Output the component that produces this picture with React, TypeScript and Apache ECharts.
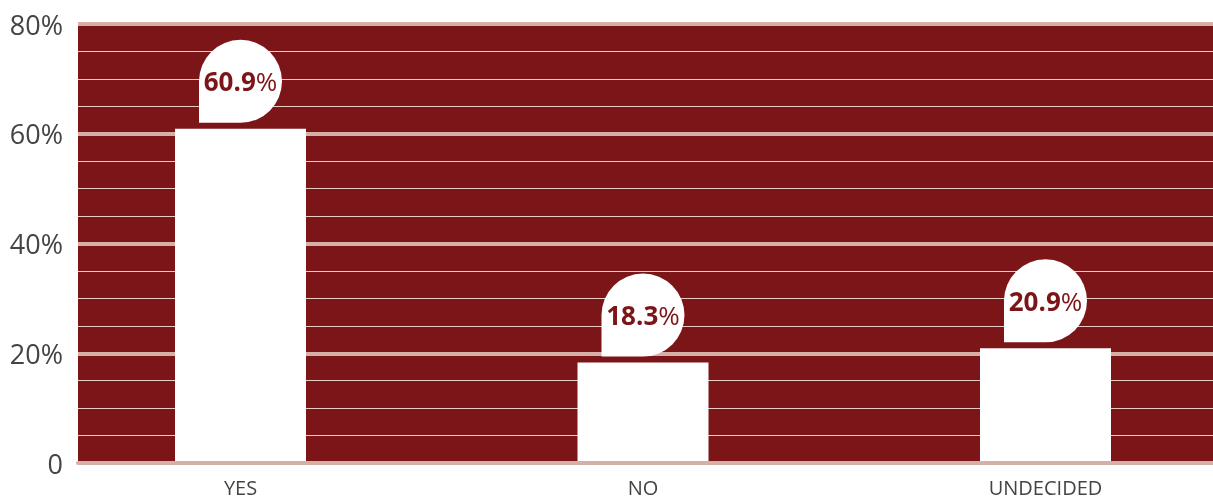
import React, { useEffect, useRef } from "react";
import * as echarts from "echarts";

const categories = ["YES", "NO", "UNDECIDED"];
const values = [60.9, 18.3, 20.9];
const yTicks = [0, 20, 40, 60, 80];

const RED = "#7C1518";
const MAJOR = "#D4B0A6";
const MINOR = "#E8CBC3";
const FONT = "'Open Sans', sans-serif";
const CHART_W = 1260;
const VIEW_W = 1213;

export default function App() {
  const ref = useRef<HTMLDivElement>(null);
  useEffect(() => {
    if (!ref.current) return;
    const chart = echarts.init(ref.current, undefined, { renderer: "svg" });
    chart.setOption({
      animation: false,
      grid: [
        { left: 78, right: CHART_W - VIEW_W, top: 24, bottom: 37, show: true, backgroundColor: RED, borderWidth: 0 },
        { left: 39.25, width: 1207.5, top: 24, bottom: 37 },
      ],
      xAxis: [
        {
          gridIndex: 0,
          type: "category",
          data: [""],
          axisLine: { show: true, lineStyle: { color: MAJOR, width: 4 } },
          axisTick: { show: false },
          axisLabel: { show: false },
          z: 10,
        },
        {
          gridIndex: 1,
          type: "category",
          data: categories,
          axisLine: { show: false },
          axisTick: { show: false },
          axisLabel: { color: "#444", fontFamily: FONT, fontSize: 20, margin: 14 },
        },
      ],
      yAxis: [
        {
          gridIndex: 0,
          type: "value",
          min: yTicks[0],
          max: yTicks[yTicks.length - 1],
          interval: 20,
          axisLine: { show: false },
          axisTick: { show: false },
          axisLabel: {
            color: "#444",
            fontFamily: FONT,
            fontSize: 27,
            margin: 15,
            formatter: (v: number) => (v === 0 ? "0" : v + "%"),
          },
          splitLine: { show: true, lineStyle: { color: MAJOR, width: 4 } },
          minorTick: { show: false, splitNumber: 4 },
          minorSplitLine: { show: true, lineStyle: { color: MINOR, width: 1 } },
        },
        {
          gridIndex: 1,
          type: "value",
          min: yTicks[0],
          max: yTicks[yTicks.length - 1],
          show: false,
        },
      ],
      series: [
        {
          type: "bar",
          xAxisIndex: 1,
          yAxisIndex: 1,
          data: values,
          barWidth: 131,
          itemStyle: { color: "#fff" },
          label: {
            show: true,
            position: "top",
            distance: 6,
            backgroundColor: "#fff",
            borderRadius: [41.5, 41.5, 41.5, 0],
            width: 83,
            height: 83,
            align: "center",
            padding: 0,
            formatter: (p: any) => `{b|${p.value.toFixed(1)}}{p|%}`,
            rich: {
              b: { color: RED, fontFamily: FONT, fontWeight: "bold", fontSize: 26, lineHeight: 83 },
              p: { color: RED, fontFamily: FONT, fontSize: 26, lineHeight: 83 },
            },
          },
        },
      ],
    });
    return () => chart.dispose();
  }, []);
  return (
    <div style={{ position: "fixed", left: 0, top: 0, width: VIEW_W, height: 500, overflow: "hidden" }}>
      <div ref={ref} style={{ width: CHART_W, height: 500 }} />
    </div>
  );
}
